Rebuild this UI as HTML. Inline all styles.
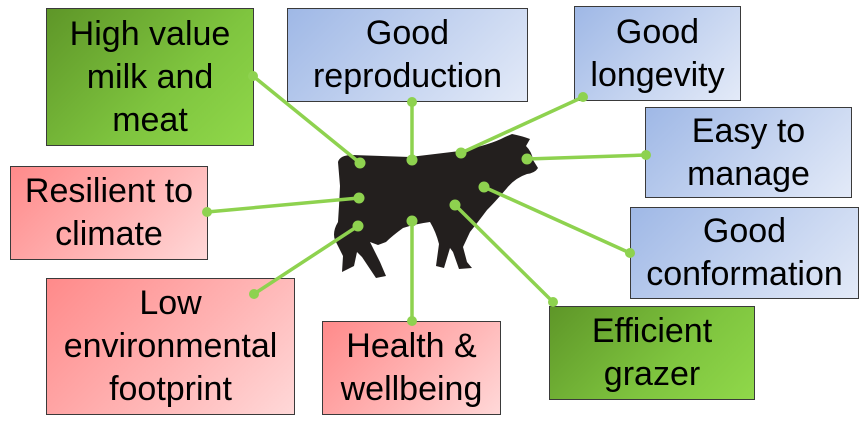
<!DOCTYPE html>
<html><head><style>
body{margin:0;width:866px;height:431px;background:#fff;overflow:hidden;position:relative;font-family:"Liberation Sans",Arial,sans-serif}
.b{position:absolute;box-sizing:border-box;border:1.5px solid #3a3a3a;display:flex;align-items:center;justify-content:center;text-align:center;font-size:34px;line-height:43px;color:#000;white-space:nowrap}
.g{background:linear-gradient(135deg,#5e9628 0%,#7fc53f 60%,#90d84a 100%)}
.bl{background:linear-gradient(135deg,#9fb8e6 0%,#c5d4f0 55%,#e3eaf8 100%)}
.r{background:linear-gradient(135deg,#ff8a8a 0%,#ffb3b3 55%,#ffd8d8 100%)}
svg{position:absolute;left:0;top:0}
</style></head><body>
<div class="b g" style="left:46px;top:8px;width:208px;height:138px">High value<br>milk and<br>meat</div>
<div class="b bl" style="left:287px;top:8px;width:241px;height:94px">Good<br>reproduction</div>
<div class="b bl" style="left:574px;top:6px;width:167px;height:95px">Good<br>longevity</div>
<div class="b bl" style="left:645px;top:107px;width:207px;height:91px">Easy to<br>manage</div>
<div class="b bl" style="left:630px;top:207px;width:229px;height:92px">Good<br>conformation</div>
<div class="b g" style="left:549px;top:306px;width:206px;height:94px">Efficient<br>grazer</div>
<div class="b r" style="left:322px;top:321px;width:179px;height:94px">Health &amp;<br>wellbeing</div>
<div class="b r" style="left:46px;top:278px;width:249px;height:137px">Low<br>environmental<br>footprint</div>
<div class="b r" style="left:10px;top:166px;width:198px;height:94px">Resilient to<br>climate</div>
<svg width="866" height="431">
<path fill="#231f1e" d="M338,162 Q340,155 352,155 L410,157 L460,151 Q490,145 505,137 L512,134 Q522,136 530,139 L526,146 Q532,152 533,160 L538,168 Q535,173 527,174 Q515,178 507,188 Q495,202 487,210 Q478,222 470,232 L463,247 L467,262 L472,268 L459,269 L453,252 L450,248 L447,258 L444,268 L436,266 L439,244 Q436,232 430,222 Q415,224 403,228 Q392,236 386,242 L378,245 L370,242 L380,262 L386,276 L376,278 L362,257 L357,252 L354,266 L342,272 L343,256 L335,240 Q332,232 338,222 L339,206 L340,186 Z"/>
<g stroke="#8ed24f" stroke-width="3.5" fill="#8ed24f">
<line x1="253" y1="76" x2="360" y2="163"/><line x1="412" y1="102" x2="412" y2="160"/>
<line x1="583" y1="97" x2="461" y2="153"/><line x1="646" y1="155" x2="527" y2="159"/>
<line x1="630" y1="253" x2="484" y2="187"/><line x1="553" y1="302" x2="455" y2="205"/>
<line x1="412" y1="321" x2="412" y2="221"/><line x1="254" y1="294" x2="358" y2="226"/>
<line x1="207" y1="212" x2="359" y2="198"/>
<g stroke="none">
<circle cx="253" cy="76" r="5"/><circle cx="412" cy="102" r="5"/><circle cx="583" cy="97" r="5"/><circle cx="646" cy="155" r="5"/><circle cx="630" cy="253" r="5"/><circle cx="553" cy="302" r="5"/><circle cx="412" cy="321" r="5"/><circle cx="254" cy="294" r="5"/><circle cx="207" cy="212" r="5"/>
<circle cx="360" cy="163" r="5.5"/><circle cx="412" cy="160" r="5.5"/><circle cx="461" cy="153" r="5.5"/><circle cx="527" cy="159" r="5.5"/><circle cx="484" cy="187" r="5.5"/><circle cx="455" cy="205" r="5.5"/><circle cx="412" cy="221" r="5.5"/><circle cx="358" cy="226" r="5.5"/><circle cx="359" cy="198" r="5.5"/>
</g></g>
</svg>
</body></html>
